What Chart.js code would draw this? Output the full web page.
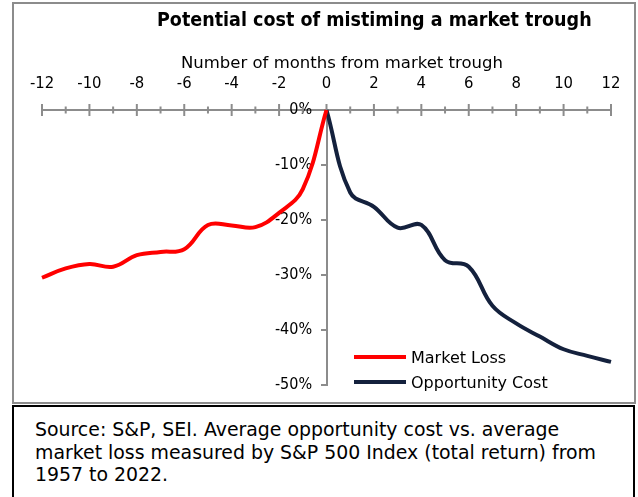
<!DOCTYPE html>
<html><head><meta charset="utf-8">
<script src="https://cdn.jsdelivr.net/npm/chart.js@4.4.1/dist/chart.umd.min.js"></script>
<style>
body{margin:0;background:#fff;width:638px;height:497px;overflow:hidden;position:relative;font-family:"DejaVu Sans",sans-serif;color:#000;}
#frame{position:absolute;left:12px;top:2px;width:620px;height:398px;border:2px solid #8c8c8c;}
#wrap{position:absolute;left:0;top:0;width:638px;height:405px;}
#title{position:absolute;left:157px;top:7px;font-family:"DejaVu Sans Condensed","DejaVu Sans",sans-serif;font-weight:bold;font-size:19.5px;line-height:26px;white-space:nowrap;}
#xtitle{position:absolute;left:181px;top:53px;font-size:16.5px;line-height:20px;white-space:nowrap;}
#legend{position:absolute;left:354px;top:344.5px;font-size:16px;}
#legend .row{height:25px;display:flex;align-items:center;white-space:nowrap;}
#legend .sw{width:52px;height:4px;margin-right:5px;}
#source{position:absolute;left:12px;top:405px;width:619px;height:100px;border:2px solid #000;}
#source p{margin:0;position:absolute;left:21px;top:11px;font-size:18.9px;line-height:22.5px;white-space:nowrap;}
</style></head>
<body>
<div id="frame"></div>
<div id="wrap"><canvas id="c" width="638" height="405"></canvas></div>
<div id="title">Potential cost of mistiming a market trough</div>
<div id="xtitle">Number of months from market trough</div>
<div id="legend"></div>
<div id="source"><p>Source: S&amp;P, SEI. Average opportunity cost vs. average<br>market loss measured by S&amp;P 500 Index (total return) from<br>1957 to 2022.</p></div>
<script>
// ---- data ----
const lossMonths = [-12,-11,-10,-9,-8,-7,-6,-5,-4,-3,-2,-1,0];
const lossValues = [-30.5,-28.8,-28.0,-28.5,-26.4,-25.8,-25.3,-20.9,-21.0,-21.3,-18.7,-14.4,0];
const costMonths = [0,1,2,3,4,5,6,7,8,9,10,11,12];
const costValues = [0,-15.0,-17.6,-21.4,-20.9,-27.3,-28.5,-35.6,-38.8,-41.2,-43.5,-44.7,-45.8];
const seriesNames = ['Market Loss','Opportunity Cost'];
const seriesColors = ['#ff0000','#14213d'];
const yTicks = [0,-10,-20,-30,-40,-50];

const AX = '#8c8c8c';
const CF = '"DejaVu Sans Condensed","DejaVu Sans",sans-serif';
Chart.defaults.font.family = CF;
Chart.defaults.color = '#000';

const crossTicks = {
  id:'crossTicks',
  beforeDatasetsDraw(chart){
    const xs = chart.scales.x, ctx = chart.ctx, y = xs.bottom;
    ctx.save(); ctx.strokeStyle = AX; ctx.lineWidth = 2;
    xs.ticks.forEach(t=>{
      const px = xs.getPixelForValue(t.value);
      const h = (t.value % 2 === 0) ? 6 : 3.5;
      ctx.beginPath(); ctx.moveTo(px, y-h); ctx.lineTo(px, y+h); ctx.stroke();
    });
    ctx.restore();
  }
};

const chart = new Chart(document.getElementById('c'), {
  type:'line',
  data:{
    datasets:[
      {label:seriesNames[0], data:lossMonths.map((m,i)=>({x:m,y:lossValues[i]})), borderColor:seriesColors[0], backgroundColor:seriesColors[0], borderWidth:4, pointRadius:0, tension:0.4, clip:false},
      {label:seriesNames[1], data:costMonths.map((m,i)=>({x:m,y:costValues[i]})), borderColor:seriesColors[1], backgroundColor:seriesColors[1], borderWidth:4, pointRadius:0, tension:0.4, clip:false}
    ]
  },
  options:{
    responsive:false, animation:false,
    layout:{padding:{left:42,right:27,top:0,bottom:20}},
    plugins:{legend:{display:false}, title:{display:false}, tooltip:{enabled:false}},
    scales:{
      x:{type:'linear', position:'top', min:-12, max:12,
        afterFit(s){ s.height = 110; },
        grid:{drawOnChartArea:false, drawTicks:false},
        border:{color:AX, width:2},
        ticks:{stepSize:1, autoSkip:false, maxRotation:0, padding:16, font:{size:16.5},
          callback:v=> (v % 2 === 0) ? String(v) : ''}
      },
      y:{type:'linear', position:{x:0}, min:-50, max:0,
        afterBuildTicks(s){ s.ticks = yTicks.map(v=>({value:v})); },
        grid:{drawOnChartArea:false, drawTicks:true, tickLength:5, color:AX, lineWidth:2},
        border:{color:AX, width:2},
        ticks:{font:{size:16}, callback:v=> v + '%\u2003'}
      }
    }
  },
  plugins:[crossTicks]
});

// legend from datasets
const lg = document.getElementById('legend');
chart.data.datasets.forEach(d=>{
  const r = document.createElement('div'); r.className='row';
  const s = document.createElement('span'); s.className='sw'; s.style.background=d.borderColor;
  const t = document.createElement('span'); t.textContent = d.label;
  r.appendChild(s); r.appendChild(t); lg.appendChild(r);
});
</script>
</body></html>
